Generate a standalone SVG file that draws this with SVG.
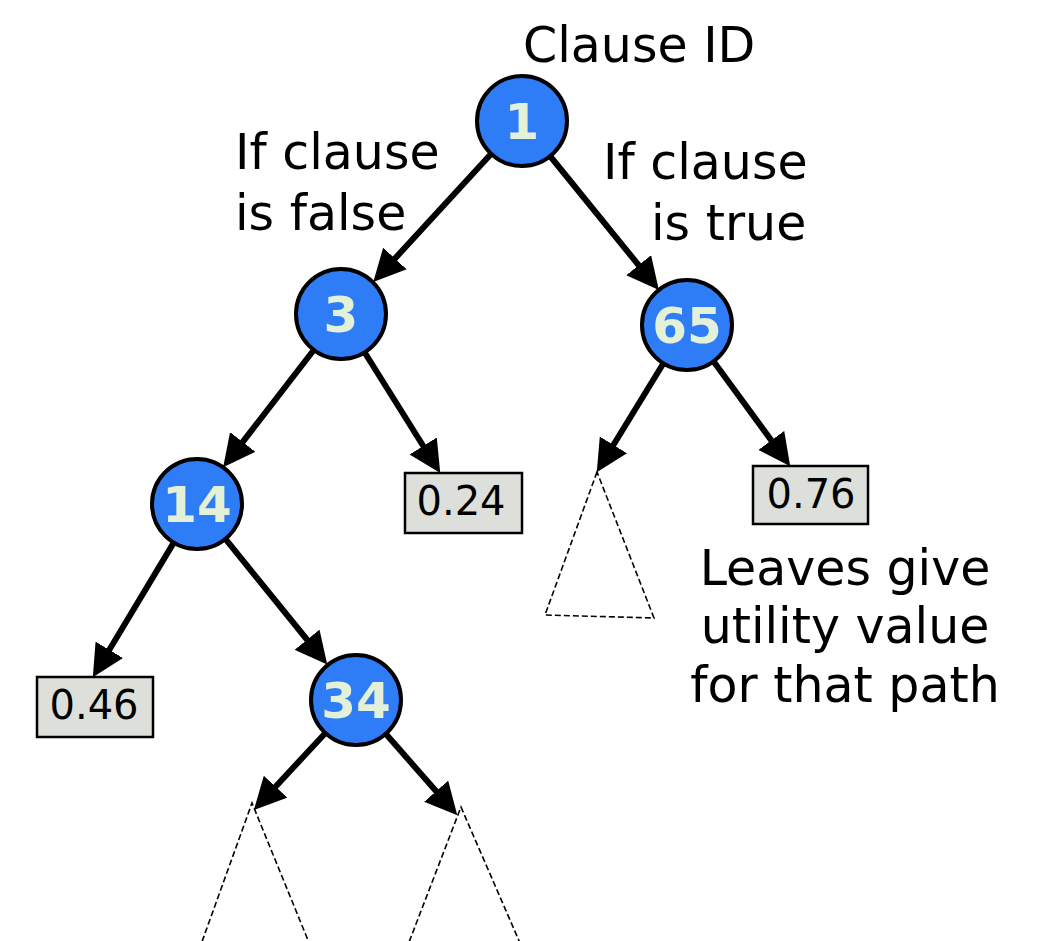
<svg xmlns="http://www.w3.org/2000/svg" width="1039" height="941" viewBox="0 0 1039 941">
  <style>
    .lbl { font-family: "DejaVu Sans", "Liberation Sans", sans-serif; font-size: 49px; fill: #000; }
    .node circle { fill: #2e7df6; stroke: #000; stroke-width: 4; }
    .node text { font-family: "DejaVu Sans", "Liberation Sans", sans-serif; font-weight: bold; font-size: 50px; fill: #e3f1d9; text-anchor: middle; }
    .leaf rect { fill: #dde0da; stroke: #000; stroke-width: 2.5; }
    .leaf text { font-family: "DejaVu Sans", "Liberation Sans", sans-serif; font-size: 40px; fill: #000; text-anchor: middle; }
    .edge { stroke: #000; stroke-width: 6; fill: none; marker-end: url(#head); }
    .subtree { stroke: #000; stroke-width: 1.6; stroke-dasharray: 6 3; fill: none; }
  </style>
  <defs>
    <marker id="head" markerUnits="userSpaceOnUse" viewBox="0 0 30 30" markerWidth="32" markerHeight="32" refX="10" refY="15" orient="auto">
      <path d="M0,0 L30,15 L0,30 z" fill="#000"/>
    </marker>
  </defs>

  <rect width="1039" height="941" fill="#fff"/>

  <!-- unexpanded subtrees -->
  <g id="subtrees">
    <polygon class="subtree" points="597,472 545,615 654,618"/>
    <polyline class="subtree" points="199,950 252,803 312,950"/>
    <polyline class="subtree" points="406,950 461,807 523,950"/>
  </g>

  <!-- connectors -->
  <g id="edges">
    <line class="edge" x1="491" y1="154" x2="387.7" y2="266.4"/>
    <line class="edge" x1="550" y1="156" x2="645.4" y2="273.5"/>
    <line class="edge" x1="313" y1="351" x2="236.2" y2="450.4"/>
    <line class="edge" x1="365" y1="353" x2="428.9" y2="455"/>
    <line class="edge" x1="663" y1="364" x2="607.9" y2="454"/>
    <line class="edge" x1="714" y1="362" x2="777.6" y2="449"/>
    <line class="edge" x1="173.3" y1="543.4" x2="103.8" y2="659"/>
    <line class="edge" x1="226" y1="539.7" x2="313.8" y2="648"/>
    <line class="edge" x1="324.7" y1="733.7" x2="268.3" y2="794.5"/>
    <line class="edge" x1="386.4" y1="734.6" x2="443.2" y2="799.2"/>
  </g>

  <!-- clause nodes -->
  <g id="n1" class="node"><circle cx="522" cy="121" r="45"/><text x="522" y="139">1</text></g>
  <g id="n3" class="node"><circle cx="341" cy="314" r="45"/><text x="341" y="332">3</text></g>
  <g id="n65" class="node"><circle cx="687" cy="325" r="45"/><text x="687" y="343">65</text></g>
  <g id="n14" class="node"><circle cx="197" cy="504" r="45"/><text x="197" y="522">14</text></g>
  <g id="n34" class="node"><circle cx="356" cy="700" r="45"/><text x="356" y="718">34</text></g>

  <!-- leaf values -->
  <g id="leaf024" class="leaf"><rect x="405" y="473" width="117" height="60"/><text x="461" y="515">0.24</text></g>
  <g id="leaf076" class="leaf"><rect x="753" y="466" width="115" height="58"/><text x="811" y="508">0.76</text></g>
  <g id="leaf046" class="leaf"><rect x="37" y="677" width="116" height="60"/><text x="94" y="719">0.46</text></g>

  <!-- annotations -->
  <g id="notes">
    <text class="lbl" x="523" y="62">Clause ID</text>
    <text class="lbl" x="235" y="169">If clause</text>
    <text class="lbl" x="235" y="230">is false</text>
    <text class="lbl" x="603" y="179">If clause</text>
    <text class="lbl" x="651" y="240">is true</text>
    <text class="lbl" x="845" y="585" text-anchor="middle">Leaves give</text>
    <text class="lbl" x="845" y="643" text-anchor="middle">utility value</text>
    <text class="lbl" x="845" y="702" text-anchor="middle">for that path</text>
  </g>
</svg>
